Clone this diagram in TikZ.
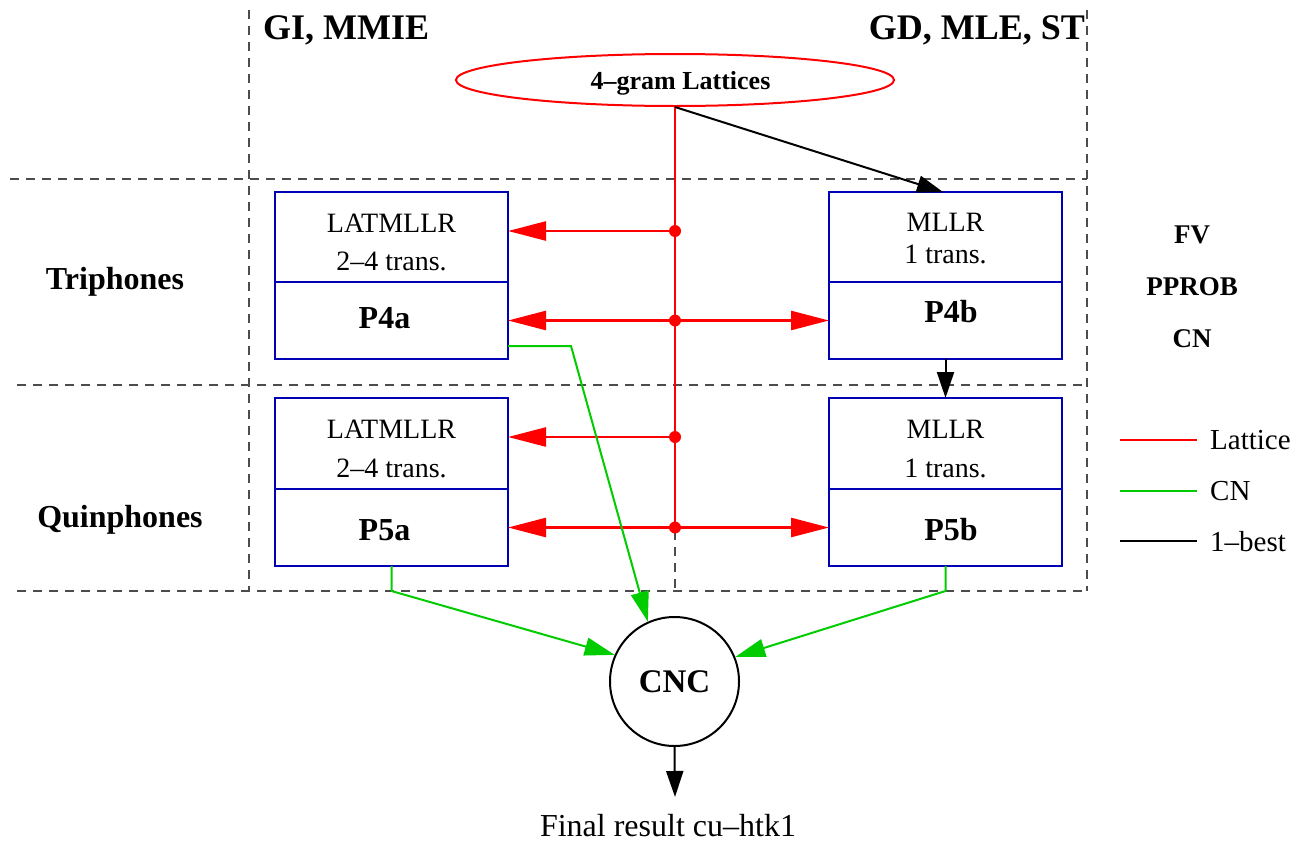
\documentclass[tikz,border=0pt]{standalone}
\usepackage{fontspec}
\setmainfont{Liberation Serif}
\usetikzlibrary{arrows.meta,shapes.geometric}
\definecolor{latred}{RGB}{255,0,0}
\definecolor{cngreen}{RGB}{0,204,0}
\definecolor{boxblue}{RGB}{0,0,180}
\begin{document}
\begin{tikzpicture}[x=1pt,y=-1pt,
  grid/.style={draw=black!70,line width=1.1pt,dash pattern=on 9pt off 7pt},
  half/.style={draw=boxblue,line width=2pt,minimum width=233pt,inner sep=0pt,outer sep=0pt},
  reg/.style={font=\fontsize{28pt}{33pt}\selectfont,inner sep=0pt,anchor=base},
  bld/.style={font=\fontsize{32pt}{38pt}\selectfont\bfseries,inner sep=0pt,anchor=base},
  side/.style={font=\fontsize{27pt}{32pt}\selectfont\bfseries,inner sep=0pt,anchor=base},
  ttl/.style={font=\fontsize{36pt}{42pt}\selectfont\bfseries,inner sep=0pt},
  leg/.style={font=\fontsize{29pt}{34pt}\selectfont,inner sep=0pt,anchor=west},
  lattice/.style={draw=latred,line width=2.5pt},
  redtip/.style={-{Triangle[length=38pt,width=19pt]}},
  redboth/.style={{Triangle[length=38pt,width=19pt]}-{Triangle[length=38pt,width=19pt]}},
  cn/.style={draw=cngreen,line width=2pt,-{Triangle[length=30pt,width=18pt]}},
  best/.style={draw=black,line width=2pt,-{Triangle[length=26pt,width=17pt]}},
  dot/.style={fill=latred}
]
\useasboundingbox (0,0) rectangle (1296,841);

% dashed grid separating training schemes and model sets
\draw[grid] (10,179) -- (1087,179);
\draw[grid] (17,385) -- (1087,385);
\draw[grid] (17,591) -- (1087,591);
\draw[grid] (249,10) -- (249,591);
\draw[grid] (1087,10) -- (1087,591);
\draw[grid] (675,179) -- (675,591);

% column and row headings
\node[ttl,anchor=base west] (hgi) at (263,39) {GI, MMIE};
\node[ttl,anchor=base east] (hgd) at (1085,39) {GD, MLE, ST};
\node[bld] (htri) at (115,289) {Triphones};
\node[bld] (hquin) at (120,527) {Quinphones};

% lattice source
\node[ellipse,draw=latred,line width=2pt,minimum width=438pt,minimum height=52pt,inner sep=0pt] (lat) at (675,80) {};
\node[font=\fontsize{26pt}{30pt}\selectfont\bfseries,inner sep=0pt,anchor=base] (lattxt) at (680.5,89) {4–gram Lattices};

% adaptation / decoding boxes
\node[half,minimum height=90pt] (p4aU) at (391.5,237) {};
\node[half,minimum height=77pt] (p4aL) at (391.5,320.5) {};
\node[half,minimum height=90pt] (p4bU) at (945.5,237) {};
\node[half,minimum height=77pt] (p4bL) at (945.5,320.5) {};
\node[half,minimum height=91pt] (p5aU) at (391.5,443.5) {};
\node[half,minimum height=77pt] (p5aL) at (391.5,527.5) {};
\node[half,minimum height=91pt] (p5bU) at (945.5,443.5) {};
\node[half,minimum height=77pt] (p5bL) at (945.5,527.5) {};

\node[reg] (t4a1) at (391.5,232) {LATMLLR};
\node[reg] (t4a2) at (391.5,270) {2–4 trans.};
\node[bld] (t4a3) at (384.5,328) {P4a};
\node[reg] (t4b1) at (945.5,231) {MLLR};
\node[reg] (t4b2) at (945.5,263) {1 trans.};
\node[bld] (t4b3) at (951,322) {P4b};
\node[reg] (t5a1) at (391.5,438) {LATMLLR};
\node[reg] (t5a2) at (391.5,477) {2–4 trans.};
\node[bld] (t5a3) at (384.5,540) {P5a};
\node[reg] (t5b1) at (945.5,438) {MLLR};
\node[reg] (t5b2) at (945.5,477) {1 trans.};
\node[bld] (t5b3) at (951,540) {P5b};

% rescoring options
\node[side] (fv) at (1192,243) {FV};
\node[side] (pprob) at (1192,295) {PPROB};
\node[side] (cnopt) at (1192,347) {CN};

% combination node and output
\node[circle,draw=black,line width=2pt,minimum size=129pt,inner sep=0pt,
      font=\fontsize{33pt}{38pt}\selectfont\bfseries] (cnc) at (674.5,681.5) {CNC};
\node[font=\fontsize{32pt}{38pt}\selectfont,inner sep=0pt,anchor=base] (fin) at (668,836) {Final result cu–htk1};
\coordinate (out) at (675,797);

% lattice distribution
\coordinate (j1) at (675,231);
\coordinate (j2) at (675,320.5);
\coordinate (j3) at (675,437);
\coordinate (j4) at (675,527.5);
\draw[lattice] (lat.south) -- (j4);
\draw[lattice,redtip] (j1) -- (j1 -| p4aU.east);
\draw[lattice,redboth] (p4aL.east) -- (p4bL.west);
\draw[lattice,redtip] (j3) -- (j3 -| p5aU.east);
\draw[lattice,redboth] (p5aL.east) -- (p5bL.west);
\foreach \j in {j1,j2,j3,j4} \fill[dot] (\j) circle (6pt);

% 1-best paths
\draw[best] (lat.south) -- ([xshift=-2.5pt]p4bU.north);
\draw[best] (p4bL.south) -- (p5bU.north);
\draw[best] (cnc.south) -- (out);

% confusion network paths
\coordinate (g1) at (571,346);
\coordinate (g2) at (391.5,591);
\coordinate (g3) at (945.5,591);
\draw[cn] ([yshift=13pt]p4aL.south east) -- (g1) -- (cnc.114);
\draw[cn] (p5aL.south) -- (g2) -- (cnc.156);
\draw[cn] (p5bL.south) -- (g3) -- (cnc.22);

% legend
\coordinate (l1a) at (1120,440); \coordinate (l1b) at (1197,440);
\coordinate (l2a) at (1120,491); \coordinate (l2b) at (1197,491);
\coordinate (l3a) at (1120,541); \coordinate (l3b) at (1197,541);
\draw[draw=latred,line width=2pt] (l1a) -- (l1b);
\draw[draw=cngreen,line width=2pt] (l2a) -- (l2b);
\draw[draw=black,line width=2pt] (l3a) -- (l3b);
\node[leg] (lg1) at (1210,440) {Lattice};
\node[leg] (lg2) at (1210,491) {CN};
\node[leg] (lg3) at (1210,542) {1–best};
\end{tikzpicture}
\end{document}
